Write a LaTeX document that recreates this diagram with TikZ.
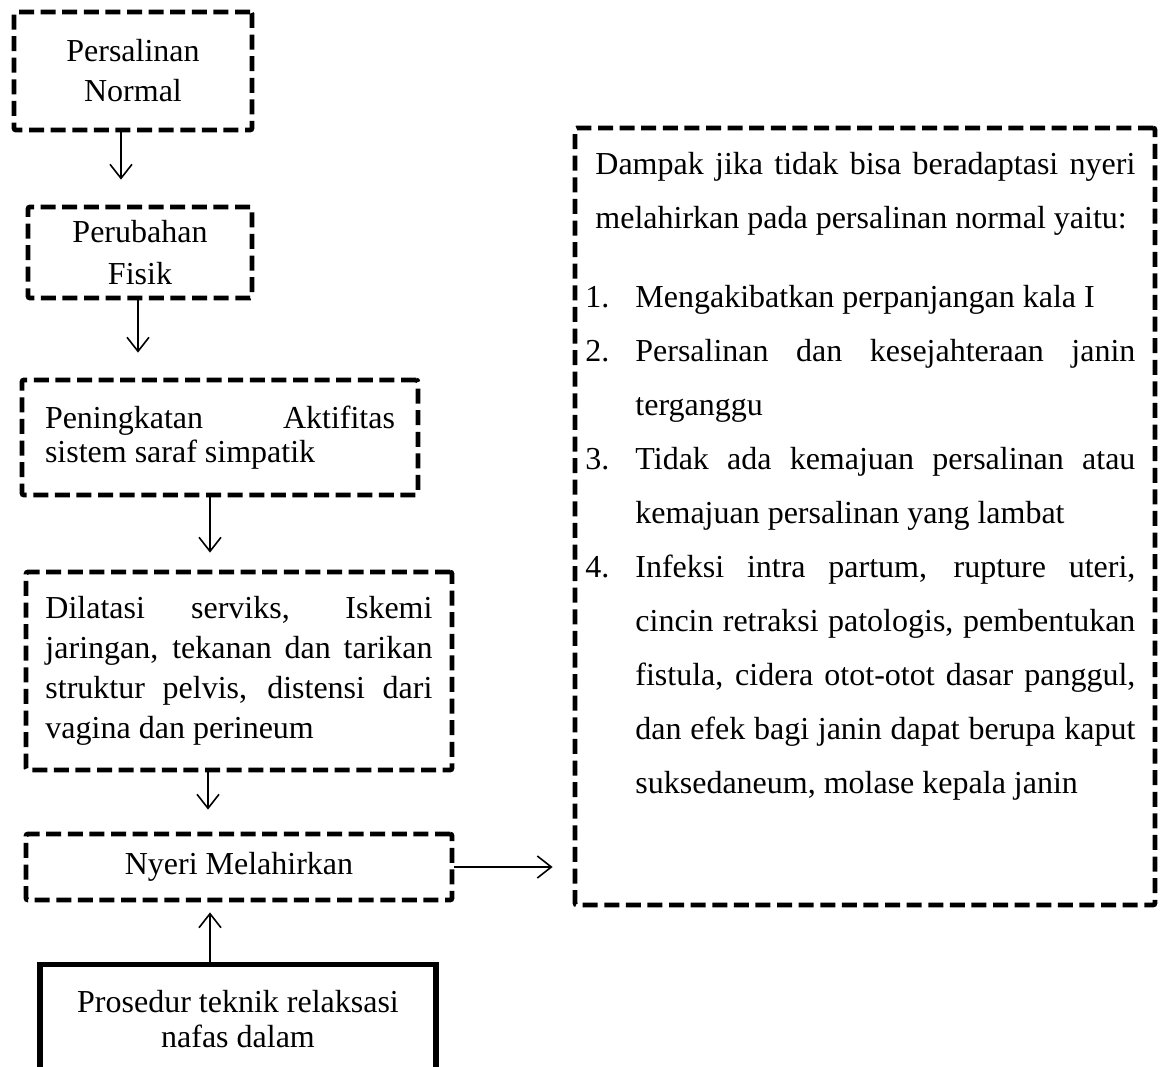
\documentclass[tikz,border=0pt]{standalone}
\usepackage{fontspec}
\setmainfont{Liberation Serif}
\usetikzlibrary{arrows.meta}
\setlength{\parindent}{0pt}

\tikzset{
	kotak/.style={draw, line width=2.4pt, dash pattern=on 7.5pt off 3.3pt, rounded corners=1pt},
	panah/.style={-{Straight Barb[length=7pt,width=11pt]}, line width=0.8pt},
	teks/.style={font=\fontsize{16}{20}\selectfont}
}

\begin{document}
\begin{tikzpicture}[x=0.5pt,y=-0.5pt]
	\useasboundingbox (0,0) rectangle (1162,1066);
	\clip (0,0) rectangle (1162,1066);
	
	%kolom kiri
	\node[kotak,teks,align=center,minimum width=119pt,minimum height=59pt] (persalinan) at (133,71) {Persalinan\\Normal};
	\node[kotak,teks,font=\fontsize{16}{21}\selectfont,align=center,minimum width=112pt,minimum height=45.5pt] (fisik) at (140,252.5) {Perubahan\\Fisik};
	\node[kotak,teks,font=\fontsize{16}{17}\selectfont,text width=175pt,align=justify,minimum width=198pt,minimum height=57.5pt] (simpatik) at (220,437.5) {Peningkatan Aktifitas\linebreak sistem saraf simpatik};
	\node[kotak,teks,text width=193.5pt,align=justify,minimum width=213pt,minimum height=99pt] (dilatasi) at (239,671) {Dilatasi serviks, Iskemi\linebreak jaringan, tekanan dan tarikan\linebreak struktur pelvis, distensi dari\linebreak vagina dan perineum};
	\node[kotak,teks,align=center,minimum width=213pt,minimum height=33pt] (nyeri) at (239,867) {Nyeri Melahirkan};
	
	%kotak bawah (terpotong)
	\node[draw,line width=2.6pt,font=\fontsize{16}{17.5}\selectfont,align=center,minimum width=198pt,inner ysep=13pt,anchor=north] (prosedur) at (238,962) {Prosedur teknik relaksasi\\nafas dalam};
	
	%kotak kanan
	\node[kotak,minimum width=290pt,minimum height=388.5pt] (dampak) at (865,516.5) {};
	\node[font=\fontsize{16}{27}\selectfont,text width=275pt,align=justify,inner sep=0pt,anchor=north west] (dampaktxt) at (585,152) {%
		\hangindent=5pt\hangafter=0 Dampak jika tidak bisa beradaptasi nyeri\linebreak melahirkan pada persalinan normal yaitu:\par
		\vspace{12.5pt}
		\hangindent=25pt\hangafter=1\makebox[25pt][l]{1.}Mengakibatkan perpanjangan kala I\par
		\hangindent=25pt\hangafter=1\makebox[25pt][l]{2.}Persalinan dan kesejahteraan janin\linebreak terganggu\par
		\hangindent=25pt\hangafter=1\makebox[25pt][l]{3.}Tidak ada kemajuan persalinan atau\linebreak kemajuan persalinan yang lambat\par
		\hangindent=25pt\hangafter=1\makebox[25pt][l]{4.}Infeksi intra partum, rupture uteri,\linebreak cincin retraksi patologis, pembentukan\linebreak fistula, cidera otot-otot dasar panggul,\linebreak dan efek bagi janin dapat berupa kaput\linebreak suksedaneum, molase kepala janin\par};
	
	%panah
	\draw[panah,shorten >=12.5pt] ([xshift=-6pt]persalinan.south) -- ([xshift=-9.5pt]fisik.north);
	\draw[panah,shorten >=12.5pt] ([xshift=-1pt]fisik.south) -- ([xshift=-41pt]simpatik.north);
	\draw[panah,shorten >=8.5pt] ([xshift=-5pt]simpatik.south) -- ([xshift=-14.5pt]dilatasi.north);
	\draw[panah,shorten >=11pt] ([xshift=-15.5pt]dilatasi.south) -- ([xshift=-15.5pt]nyeri.north);
	\draw[panah,shorten >=10pt] (nyeri.east) -- (dampak.west |- nyeri.east);
	\draw[panah,shorten >=5pt] ([xshift=-14pt]prosedur.north) -- ([xshift=-14.5pt]nyeri.south);
\end{tikzpicture}
\end{document}
